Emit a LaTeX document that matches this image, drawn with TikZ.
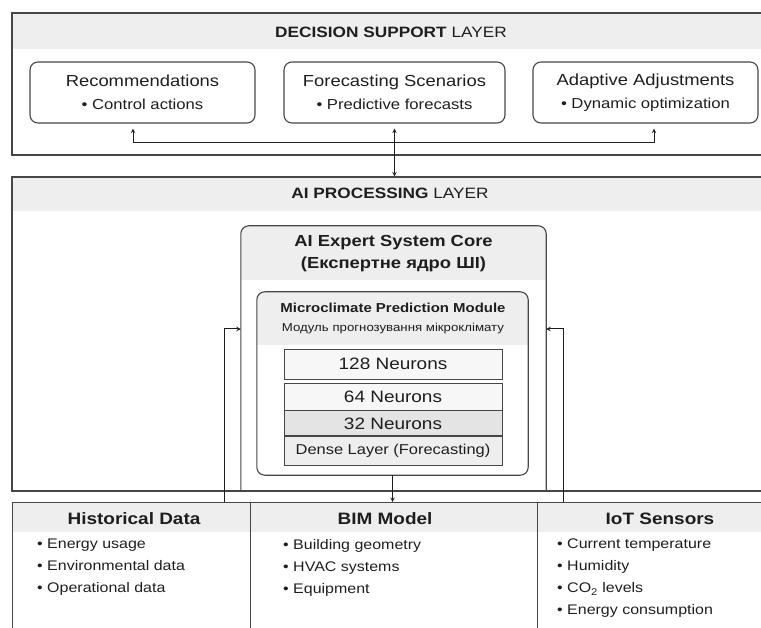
\documentclass[tikz,border=0pt]{standalone}
\usepackage{fontspec}
\setmainfont{Liberation Sans}[FakeStretch=1.15]
\usetikzlibrary{arrows,positioning,calc}
\definecolor{linegray}{RGB}{70,70,70}
\definecolor{bandgray}{RGB}{238,238,238}
\definecolor{cellgray}{RGB}{228,228,228}
\definecolor{celllight}{RGB}{247,247,247}
\definecolor{darktext}{RGB}{30,30,30}

\begin{document}
\begin{tikzpicture}[x=1pt, y=-1pt,
            layer/.style={rectangle, draw=linegray, line width=1.2pt, inner sep=0pt},
            band/.style={rectangle, fill=bandgray, inner sep=0pt},
            card/.style={rectangle, rounded corners=8pt, draw=linegray, line width=1.1pt, align=center, text=darktext, font=\fontsize{16}{23}\selectfont},
            cell/.style={rectangle, draw=linegray, line width=0.9pt, minimum width=218pt, inner sep=0pt, text=darktext, font=\fontsize{16.5}{18}\selectfont},
            ttl/.style={font=\fontsize{15}{17}\selectfont, text=darktext},
            coltitle/.style={font=\bfseries\fontsize{16.5}{18}\selectfont, text=darktext},
            items/.style={anchor=north west, align=left, inner sep=0pt, font=\fontsize{13.9}{22}\selectfont, text=darktext},
            arrow/.style={->, >=stealth, line width=1pt, darktext}
        ]
        \useasboundingbox (0,0) rectangle (761,628);

        % Decision support layer
        \node[band, minimum width=763pt, minimum height=36pt] (dslband) at (393.5,31) {};
        \node[layer, minimum width=763pt, minimum height=142pt] (dsl) at (393.5,84) {};
        \node[ttl] (dsltitle) at (391,32) {\textbf{DECISION SUPPORT} LAYER};
        \node[card, minimum width=225pt, minimum height=61pt] (rec) at (142.5,92.5) {Recommendations\\{\fontsize{14.5}{17}\selectfont • Control actions}};
        \node[card, minimum width=221pt, minimum height=61pt] (fcs) at (394.5,92.5) {Forecasting Scenarios\\{\fontsize{14.5}{17}\selectfont • Predictive forecasts}};
        \node[card, minimum width=225pt, minimum height=61pt] (adj) at (645.5,92.5) {Adaptive Adjustments\\{\fontsize{14.5}{17}\selectfont • Dynamic optimization}};

        % AI processing layer
        \node[band, minimum width=763pt, minimum height=34pt] (aiband) at (393.5,194) {};
        \node[layer, minimum width=763pt, minimum height=314pt] (ail) at (393.5,334) {};
        \node[ttl] (aititle) at (390,193) {\textbf{AI PROCESSING} LAYER};

        % Expert system core
        \node[minimum width=305pt, minimum height=265pt, inner sep=0pt] (core) at (393.5,358.5) {};
        \begin{scope}
            \clip (core.north west) rectangle ([yshift=-54pt]core.north east);
            \fill[bandgray, rounded corners=8pt] (core.north west) rectangle ([yshift=-90pt]core.north east);
        \end{scope}
        \draw[linegray, line width=1.1pt, rounded corners=8pt] (core.south west) |- (core.north) -| (core.south east);
        \node[font=\bfseries\fontsize{16}{22}\selectfont, align=center, text=darktext] (coretitle) at (393.5,254) {AI Expert System Core\\(Експертне ядро ШІ)};

        % Prediction module
        \node[minimum width=271pt, minimum height=183pt, inner sep=0pt] (mod) at (392.5,383.5) {};
        \begin{scope}
            \clip (mod.north west) rectangle ([yshift=-53pt]mod.north east);
            \fill[bandgray, rounded corners=8pt] (mod.north west) rectangle ([yshift=-90pt]mod.north east);
        \end{scope}
        \draw[linegray, line width=1.1pt, rounded corners=8pt] (mod.south west) rectangle (mod.north east);
        \node[font=\bfseries\fontsize{13}{15}\selectfont, text=darktext] (modtitle) at (393,308) {Microclimate Prediction Module};
        \node[font=\fontsize{11.5}{13}\selectfont, text=darktext] (modsub) at (393,329) {Модуль прогнозування мікроклімату};
        \node[cell, fill=celllight, minimum height=30pt] (n128) at (393,364) {128 Neurons};
        \node[cell, fill=celllight, minimum height=27pt] (n64) at (393,396.5) {64 Neurons};
        \node[cell, fill=cellgray, minimum height=25pt, below=0pt of n64] (n32) {32 Neurons};
        \node[cell, fill=bandgray, minimum height=29pt, below=0pt of n32, font=\fontsize{14.3}{16}\selectfont] (dense) {Dense Layer (Forecasting)};

        % Data sources layer
        \node[band, minimum width=763pt, minimum height=30pt] (srcband) at (393.5,517) {};
        \node[layer, minimum width=238pt, minimum height=140pt, anchor=north west] (hist) at (12,502) {};
        \node[layer, minimum width=287pt, minimum height=140pt, anchor=north west] (bim) at (250,502) {};
        \node[layer, minimum width=240pt, minimum height=140pt, anchor=north west] (iot) at (537,502) {};
        \node[coltitle] (histtitle) at (134,519) {Historical Data};
        \node[coltitle] (bimtitle) at (385,519) {BIM Model};
        \node[coltitle] (iottitle) at (660,519) {IoT Sensors};
        \node[items] (histitems) at (37,539) {• Energy usage\\• Environmental data\\• Operational data};
        \node[items] (bimitems) at (283,539) {• Building geometry\\• HVAC systems\\• Equipment};
        \node[items] (iotitems) at (557,539) {• Current temperature\\• Humidity\\• CO\textsubscript{2} levels\\• Energy consumption};

        % Arrows
        \coordinate (fork) at (394.5,143);
        \draw[arrow, shorten >=5pt] (fork) -| ([xshift=-9.5pt]rec.south);
        \draw[arrow, shorten >=5pt] (fork) -| ([xshift=8.5pt]adj.south);
        \draw[arrow, <->, shorten <=5pt] (fcs.south) -- (fcs.south |- ail.north);
        \draw[arrow] (mod.south) -- (mod.south |- bim.north);
        \draw[arrow] ([xshift=-27pt]hist.north east) |- (core.west |- modsub);
        \draw[arrow] ([xshift=26pt]iot.north west) |- (core.east |- modsub);

        \end{tikzpicture}
\end{document}
